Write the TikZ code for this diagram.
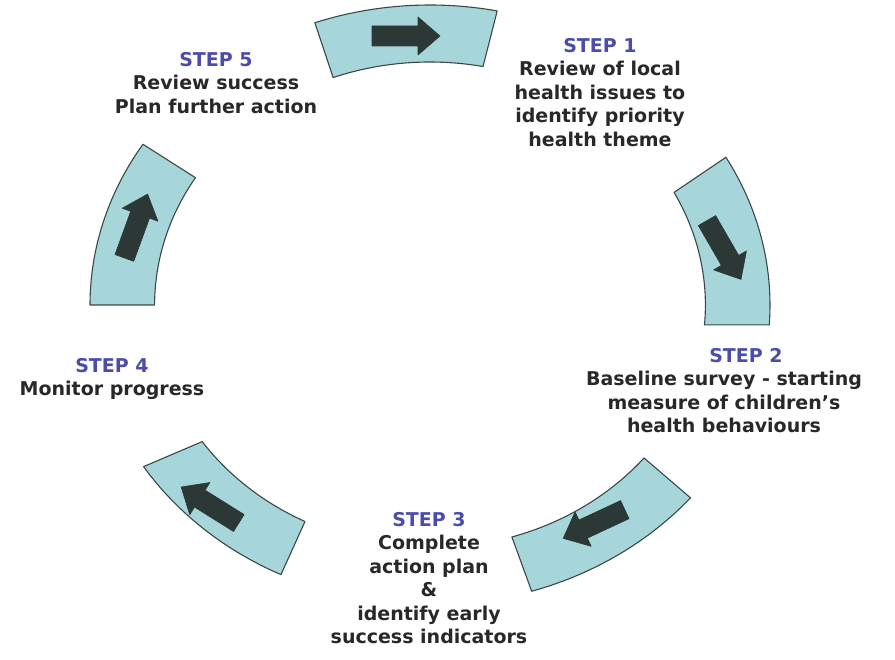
\documentclass[tikz,border=0pt]{standalone}
\usepackage{fontspec}
\setmainfont{DejaVu Sans}
\definecolor{ringblue}{RGB}{166,214,218}
\definecolor{ringedge}{RGB}{60,72,72}
\definecolor{arrowdark}{RGB}{44,56,54}
\definecolor{stepblue}{RGB}{76,76,170}
\definecolor{textdark}{RGB}{40,40,40}
\newcommand\ringseg[4]{%
  \draw[seg] plot[domain=#1:#2,samples=40] ({430+340*cos(\x)},{305-300*sin(\x)})
    -- plot[domain=#4:#3,samples=40] ({430+275.4*cos(\x)},{305-243*sin(\x)}) -- cycle;}
\newcommand\blockarr[3]{%
  \begin{scope}[shift={(#1,#2)},rotate=#3]
    \fill[blockarrow] (-34,-10) -- (12,-10) -- (12,-19) -- (34,0) -- (12,19) -- (12,10) -- (-34,10) -- cycle;
  \end{scope}}
\begin{document}
\begin{tikzpicture}[x=1pt,y=-1pt,
  seg/.style={fill=ringblue,draw=ringedge,line width=1.1pt,line join=round},
  blockarrow/.style={fill=arrowdark,draw=arrowdark,line width=0.6pt,line join=round},
  steptext/.style={font=\bfseries\fontsize{19}{23.5}\selectfont,text=textdark,align=center,anchor=north,inner sep=0pt}]
\useasboundingbox (0,0) rectangle (895,660);
% ring segments
\ringseg{78.6}{109.8}{78.9}{110.6}
\ringseg{-3.8}{29.5}{-4.7}{27.6}
\ringseg{-72.6}{-40}{-72.7}{-39}
\ringseg{-147.4}{-116}{-145.8}{-117}
\ringseg{147.6}{180}{148.4}{180}
% arrows
\blockarr{406}{36}{0}
\blockarr{724}{250}{-60}
\blockarr{594}{524}{205}
\blockarr{210}{505}{148}
\blockarr{136}{226}{70}
% texts
\node[steptext] (step1) at (600,38) {{\color{stepblue}STEP 1}\\Review of local\\health issues to\\identify priority\\health theme};
\node[steptext] (step2) at (724,348) {\hspace*{44pt}{\color{stepblue}STEP 2}\\Baseline survey - starting\\measure of children's\\health behaviours};
\node[steptext] (step3) at (429,512) {{\color{stepblue}STEP 3}\\Complete\\action plan\\\&\\identify early\\success indicators};
\node[steptext] (step4) at (112,358) {{\color{stepblue}STEP 4}\\Monitor progress};
\node[steptext] (step5) at (216,52) {{\color{stepblue}STEP 5}\\Review success\\Plan further action};
\end{tikzpicture}
\end{document}
